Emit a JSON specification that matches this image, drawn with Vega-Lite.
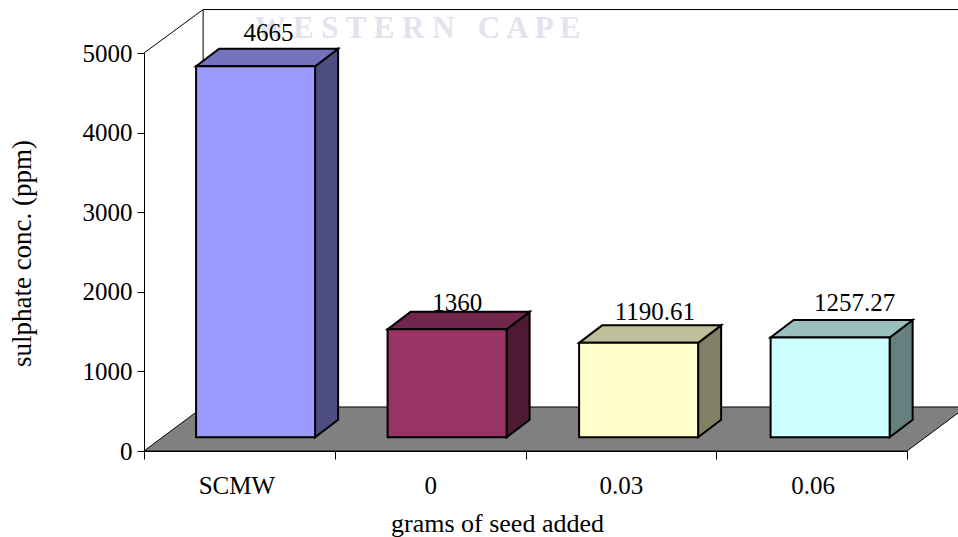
{
"$schema":"https://vega.github.io/schema/vega-lite/v6.json",
"width":763,"height":398,
"autosize":{"type":"none"},
"padding":{"left":144,"top":53,"right":51,"bottom":86},
"background":"white",
"config":{"view":{"stroke":null}},
"datasets":{
"bars":[{"group":"SCMW","ppm":4665,"label":"4665"},{"group":"0","ppm":1360,"label":"1360"},{"group":"0.03","ppm":1190.61,"label":"1190.61"},{"group":"0.06","ppm":1257.27,"label":"1257.27"}],
"wall":[{"xu":0,"ppm":5000,"part":"a"},{"xu":0.31,"ppm":5546,"part":"a"},{"xu":4.4,"ppm":5546,"part":"a"},{"xu":0.31,"ppm":5546,"part":"b"},{"xu":0.31,"ppm":553,"part":"b"}],
"floor":[{"ppm":0,"from":0,"to":4},{"ppm":553,"from":0.31,"to":4.31}],
"mark":[{"text":"W E S T E R N\u00a0\u00a0\u00a0C A P E","xu":1.434,"ppm":5188}]
},
"layer":[
{"data":{"name":"wall"},"mark":{"type":"line","color":"#000000","strokeWidth":1,"clip":false},
 "encoding":{"x":{"field":"xu","type":"quantitative","scale":{"domain":[0,4]},"axis":null},
 "y":{"field":"ppm","type":"quantitative","scale":{"domain":[0,5000],"nice":false},
  "axis":{"title":"sulphate conc. (ppm)","values":[0,1000,2000,3000,4000,5000],"grid":false,"zindex":1,"domainColor":"#000000","tickColor":"#000000","tickSize":7,"format":"d","labelFont":"Liberation Serif","labelFontSize":25,"labelColor":"#000000","labelPadding":5,"titleFont":"Liberation Serif","titleFontSize":27,"titleFontWeight":"normal","titleColor":"#000000","titlePadding":46,"titleY":200}},
 "detail":{"field":"part"},"order":{"field":"xu"}}},
{"data":{"name":"mark"},"mark":{"type":"text","font":"Liberation Serif","fontSize":31,"fontWeight":"bold","color":"#E3E3EE","baseline":"alphabetic","align":"center"},
 "encoding":{"x":{"field":"xu","type":"quantitative","scale":{"domain":[0,4]},"axis":null},
 "y":{"field":"ppm","type":"quantitative"},"text":{"field":"text"}}},
{"data":{"name":"floor"},"mark":{"type":"area","orient":"horizontal","color":"#808080","stroke":"#000000","strokeWidth":1},
 "encoding":{"x":{"field":"from","type":"quantitative","scale":{"domain":[0,4]},"axis":null},"x2":{"field":"to"},
 "y":{"field":"ppm","type":"quantitative"}}},
{"data":{"name":"bars"},
 "transform":[{"calculate":"indexof(['SCMW','0','0.03','0.06'],datum.group)","as":"i"},
 {"calculate":"datum.i*1.004+0.5+0.085+0.312","as":"right"},
 {"calculate":"[0,1]","as":"c"},{"flatten":["c"]},
 {"calculate":"datum.right+datum.c*0.1206","as":"sx"},
 {"calculate":"datum.ppm+168+datum.c*220","as":"sy"},
 {"calculate":"172+datum.c*220","as":"sy2"}],
 "mark":{"type":"area","stroke":"#000000","strokeWidth":2,"strokeJoin":"miter"},
 "encoding":{"x":{"field":"sx","type":"quantitative","scale":{"domain":[0,4]},"axis":null},
 "y":{"field":"sy","type":"quantitative"},"y2":{"field":"sy2"},
 "color":{"field":"group","type":"nominal","legend":null,"scale":{"domain":["SCMW","0","0.03","0.06"],"range":["#4D4D80","#4D1933","#808066","#668080"]}}}},
{"data":{"name":"bars"},
 "transform":[{"calculate":"indexof(['SCMW','0','0.03','0.06'],datum.group)","as":"i"},
 {"calculate":"datum.i*1.004+0.5+0.085-0.312","as":"left"},
 {"calculate":"[0,1]","as":"c"},{"flatten":["c"]},
 {"calculate":"datum.left+datum.c*0.1206","as":"tx"},
 {"calculate":"datum.tx+0.624","as":"tx2"},
 {"calculate":"datum.ppm+168+datum.c*220","as":"ty"}],
 "mark":{"type":"area","orient":"horizontal","stroke":"#000000","strokeWidth":2,"strokeJoin":"miter"},
 "encoding":{"x":{"field":"tx","type":"quantitative","scale":{"domain":[0,4]},"axis":null},"x2":{"field":"tx2"},
 "y":{"field":"ty","type":"quantitative"},
 "color":{"field":"group","type":"nominal","legend":null,"scale":{"domain":["SCMW","0","0.03","0.06"],"range":["#7373BF","#73264D","#BFBF99","#99BFBF"]}}}},
{"data":{"name":"bars"},
 "transform":[{"calculate":"indexof(['SCMW','0','0.03','0.06'],datum.group)","as":"i"},
 {"calculate":"datum.i*1.004+0.5+0.085-0.312","as":"left"},
 {"calculate":"datum.left+0.624","as":"right"},
 {"calculate":"datum.ppm+168","as":"top"},
 {"calculate":"172","as":"base"}],
 "mark":{"type":"rect","stroke":"#000000","strokeWidth":2},
 "encoding":{"x":{"field":"left","type":"quantitative","scale":{"domain":[0,4]},"axis":null},"x2":{"field":"right"},
 "y":{"field":"top","type":"quantitative"},"y2":{"field":"base"},
 "color":{"field":"group","type":"nominal","legend":null,"scale":{"domain":["SCMW","0","0.03","0.06"],"range":["#9999FF","#993366","#FFFFCC","#CCFFFF"]}}}},
{"data":{"name":"bars"},
 "transform":[{"calculate":"datum.ppm+172","as":"top"}],
 "mark":{"type":"text","font":"Liberation Serif","fontSize":25,"color":"#000000","baseline":"alphabetic","align":"center",
  "dx":{"expr":"({'SCMW':29,'0':27,'0.03':34,'0.06':43})[datum.group]"},
  "dy":{"expr":"({'SCMW':-25,'0':-18,'0.03':-23,'0.06':-26})[datum.group]"}},
 "encoding":{
 "x":{"field":"group","type":"nominal","sort":["SCMW","0","0.03","0.06"],"scale":{"paddingInner":0,"paddingOuter":0},
  "axis":{"title":"grams of seed added","labelAngle":0,"tickBand":"extent","zindex":1,"domainColor":"#000000","tickColor":"#000000","tickSize":8,"labelFont":"Liberation Serif","labelFontSize":25,"labelColor":"#000000","labelPadding":14,"labelOffset":{"expr":"datum.value==='SCMW'?-3:(datum.value==='0.06'?1:0)"},"titleFont":"Liberation Serif","titleFontSize":26,"titleFontWeight":"normal","titleColor":"#000000","titlePadding":12,"titleX":353}},
 "y":{"field":"top","type":"quantitative"},
 "text":{"field":"label"}}}
],
"resolve":{"scale":{"x":"independent","color":"independent"},"axis":{"x":"independent"}}
}
